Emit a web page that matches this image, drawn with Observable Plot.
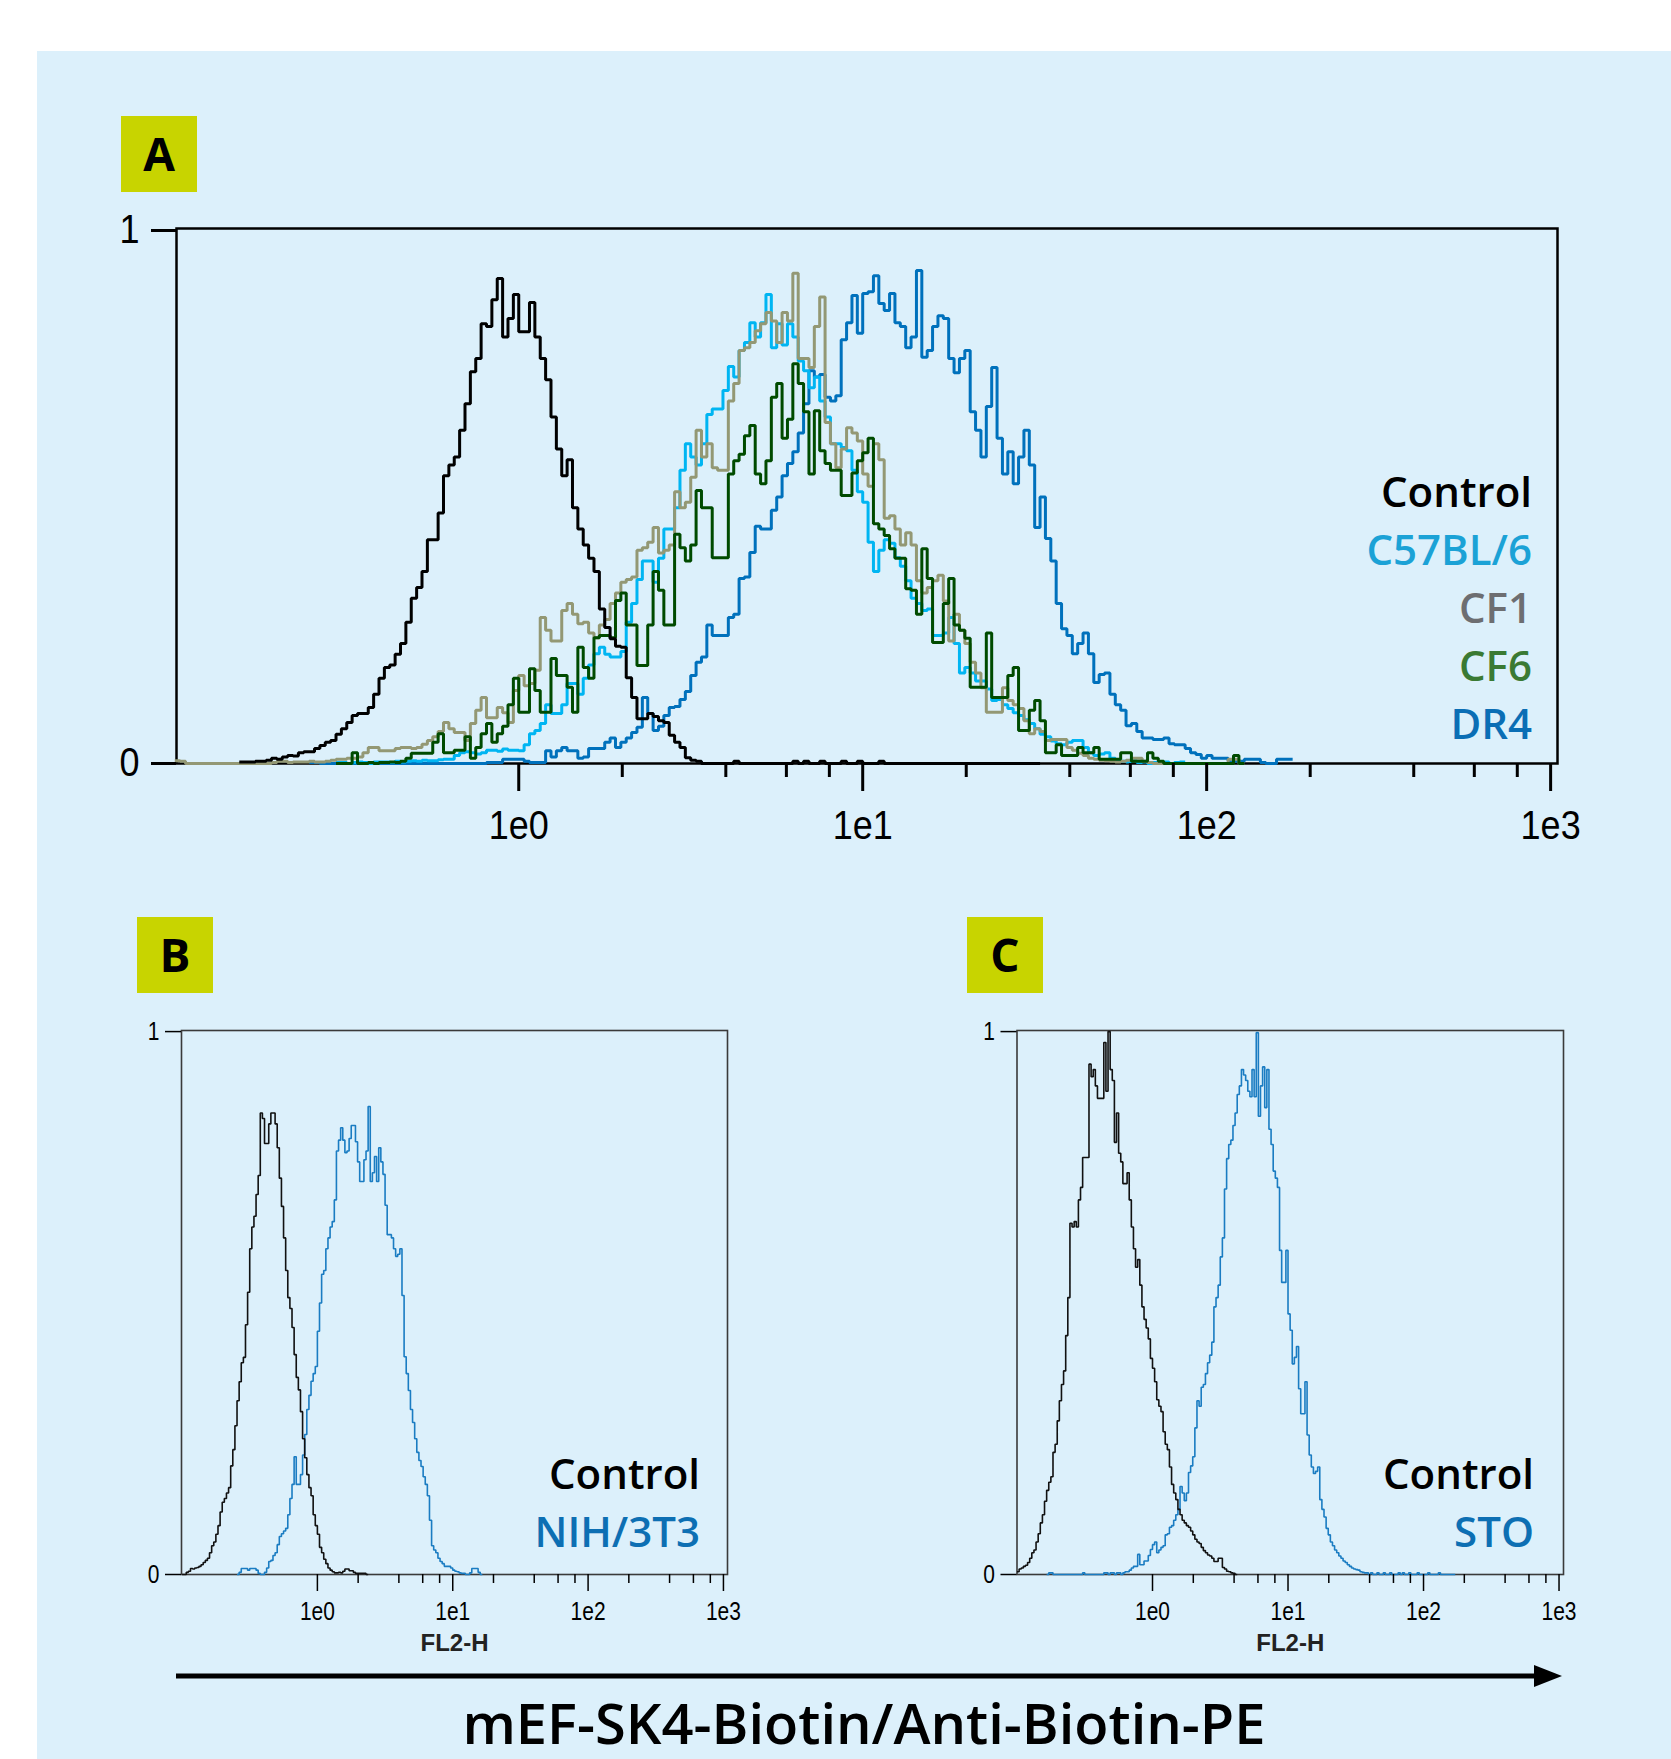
<!DOCTYPE html>
<html>
<head>
<meta charset="utf-8">
<script src="https://cdn.jsdelivr.net/npm/d3@7"></script>
<script src="https://cdn.jsdelivr.net/npm/@observablehq/plot@0.6"></script>
<style>
  html, body { margin: 0; padding: 0; background: #ffffff; }
  #page { position: relative; width: 1671px; height: 1759px; overflow: hidden; background: #ffffff; }
  #panel { position: absolute; left: 37px; top: 51px; width: 1634px; height: 1708px; background: #dcf0fb; }
  .plotbox { position: absolute; }
  .plotbox svg { max-width: none !important; display: block; }
  #overlay { position: absolute; left: 0; top: 0; pointer-events: none; }
</style>
</head>
<body>
<div id="page">
  <div id="panel"></div>
  <div id="pa" class="plotbox" style="left:60px; top:200px; width:1580px; height:660px;"></div>
  <div id="pb" class="plotbox" style="left:100px; top:1000px; width:700px; height:670px;"></div>
  <div id="pc" class="plotbox" style="left:930px; top:1000px; width:700px; height:670px;"></div>
  <svg id="overlay" width="1671" height="1759"></svg>
</div>
<script>
// ---------------- DATA ----------------
// Histogram channels: 64 bins per decade, bin k starts at 10^(-1 + k/64)
const LOG_MIN = -1;
const BINS_PER_DECADE = 64;

const ticksMajor = [1, 10, 100, 1000];
const ticksMinor = [2, 4, 6, 8, 20, 40, 60, 80, 200, 400, 600, 800];
const yTicks = [0, 1];

const panelLetters = ["A", "B", "C"];
const legendA = ["Control", "C57BL/6", "CF1", "CF6", "DR4"];
const legendB = ["Control", "NIH/3T3"];
const legendC = ["Control", "STO"];
const axisTitleBC = "FL2-H";
const caption = "mEF-SK4-Biotin/Anti-Biotin-PE";

// Panel A
const controlA_start = 12;
const controlA = [
  0.003,0.003,0.003,0.004,0.004,0.006,0.010,0.008,0.012,0.015,
  0.014,0.020,0.022,0.022,0.028,0.034,0.040,0.043,0.055,0.065,
  0.077,0.090,0.094,0.094,0.105,0.130,0.160,0.180,0.185,0.205,
  0.225,0.265,0.310,0.330,0.360,0.420,0.420,0.470,0.540,0.560,
  0.575,0.625,0.675,0.735,0.760,0.825,0.820,0.870,0.910,0.800,
  0.835,0.880,0.810,0.810,0.865,0.800,0.760,0.720,0.650,0.590,
  0.540,0.570,0.480,0.440,0.410,0.385,0.360,0.290,0.255,0.234,
  0.220,0.218,0.161,0.124,0.084,0.084,0.094,0.088,0.080,0.077,
  0.053,0.040,0.030,0.011,0.006,0.004,
  0,0,0,0,0,0,0.004,0,0,0,0,0,
  0,0,0,0,0,0.004,0,0.004,0,0,0.004,0,
  0,0,0.004,0,0,0.004,0,0,0,0.004,0,0,
  0,0,0,0,0,0,0,0,0,0,0,0,
  0,0,0,0,0,0,0,0,0,0,0,0,
  0,0,0
];

const c57_start = 30;
const c57 = [
  0.002,0.002,0.000,0.002,0.003,0.002,0.000,0.003,0.003,0.003,
  0.002,0.004,0.003,0.004,0.005,0.004,0.006,0.005,0.005,0.007,
  0.008,0.008,0.015,0.020,0.022,0.020,0.018,0.020,0.025,0.025,
  0.023,0.027,0.025,0.025,0.024,0.035,0.056,0.062,0.075,0.110,
  0.094,0.094,0.110,0.150,0.150,0.130,0.160,0.185,0.206,0.218,
  0.205,0.200,0.200,0.210,0.265,0.300,0.345,0.380,0.380,0.340,
  0.385,0.440,0.440,0.480,0.550,0.600,0.575,0.560,0.600,0.655,
  0.665,0.665,0.700,0.745,0.725,0.775,0.790,0.827,0.800,0.827,
  0.880,0.780,0.825,0.785,0.825,0.800,0.755,0.737,0.705,0.725,
  0.680,0.650,0.600,0.600,0.593,0.587,0.550,0.510,0.490,0.415,
  0.360,0.400,0.420,0.413,0.386,0.370,0.343,0.310,0.300,0.287,
  0.290,0.240,0.240,0.245,0.274,0.225,0.170,0.180,0.170,0.155,
  0.155,0.140,0.118,0.120,0.110,0.103,0.095,0.090,0.082,0.075,
  0.065,0.055,0.050,0.042,0.037,0.035,0.040,0.043,0.043,0.030,
  0.020,0.015,0.018,0.020,0.010,0.005,0.004,0.003,0.005,0.002,
  0.003,0.000,0.002,0.000,0.003,0.000,0.002,0.003
];

const cf1_start = 0;
const cf1 = [
  0.005,0.004,0,0,0,0,0,0,0,0,
  0,0,0,0,0,0,0,0,0.002,0.004,
  0.004,0.002,0.003,0.003,0.003,0.004,0.003,0.003,0.004,0.006,
  0.008,0.008,0.010,0.010,0.012,0.020,0.030,0.030,0.024,0.024,
  0.024,0.028,0.030,0.030,0.028,0.030,0.036,0.043,0.050,0.060,
  0.077,0.065,0.058,0.058,0.043,0.075,0.100,0.124,0.086,0.086,
  0.105,0.095,0.077,0.137,0.165,0.146,0.150,0.175,0.274,0.250,
  0.230,0.230,0.287,0.300,0.280,0.262,0.265,0.245,0.236,0.260,
  0.270,0.300,0.320,0.340,0.345,0.350,0.400,0.405,0.415,0.443,
  0.395,0.400,0.410,0.510,0.480,0.490,0.537,0.625,0.575,0.600,
  0.555,0.550,0.550,0.680,0.713,0.775,0.780,0.790,0.812,0.825,
  0.846,0.830,0.790,0.846,0.830,0.920,0.760,0.760,0.743,0.820,
  0.875,0.640,0.600,0.555,0.590,0.630,0.620,0.605,0.543,0.520,
  0.600,0.570,0.460,0.465,0.440,0.410,0.433,0.410,0.343,0.320,
  0.330,0.343,0.353,0.305,0.230,0.280,0.250,0.225,0.190,0.170,
  0.142,0.096,0.096,0.096,0.142,0.118,0.110,0.103,0.080,0.056,
  0.065,0.060,0.043,0.045,0.045,0.045,0.030,0.025,0.019,0.015,
  0.010,0.008,0.006,0.005,0.004,0.003,0.004,0.006,0.010,0.010,
  0.004,0.002,0,0,0,0,0,0,0,0,
  0,0,0,0,0,0,0.008,0.008,0
];

const cf6_start = 30;
const cf6 = [
  0,0,0,0.020,0,0,0.002,0,0.002,0.002,
  0.003,0.002,0.004,0.010,0.019,0.019,0.019,0.019,0.040,0.056,
  0.020,0.020,0.025,0.025,0.050,0.010,0.030,0.056,0.075,0.040,
  0.056,0.070,0.110,0.160,0.096,0.096,0.178,0.137,0.096,0.096,
  0.197,0.165,0.165,0.143,0.096,0.218,0.180,0.160,0.236,0.240,
  0.240,0.236,0.306,0.320,0.260,0.260,0.184,0.184,0.260,0.360,
  0.325,0.260,0.260,0.430,0.405,0.380,0.410,0.512,0.480,0.480,
  0.386,0.386,0.386,0.543,0.568,0.580,0.615,0.634,0.543,0.525,
  0.568,0.687,0.713,0.610,0.646,0.750,0.713,0.660,0.543,0.662,
  0.587,0.563,0.550,0.550,0.503,0.503,0.545,0.568,0.583,0.610,
  0.450,0.440,0.428,0.403,0.385,0.385,0.328,0.325,0.280,0.403,
  0.347,0.227,0.227,0.300,0.347,0.260,0.250,0.235,0.143,0.143,
  0.143,0.245,0.124,0.124,0.124,0.165,0.180,0.062,0.062,0.100,
  0.118,0.080,0.020,0.020,0.035,0.015,0.015,0.015,0.030,0.020,
  0.020,0.030,0.008,0.008,0.008,0.008,0.020,0.020,0.004,0.004,
  0.004,0.020,0.010,0.004,0,0,0,0,0,0,
  0,0,0,0,0,0,0,0.015,0
];

const dr4_start = 25;
const dr4 = [
  0.002,0.002,0,0,0,
  0,0,0,0,0,0,0,0,0,0,
  0,0,0,0,0,0,0,0,0,0,
  0,0,0,0,0,0,0,0,0.002,0.002,
  0.002,0.008,0.008,0.008,0.008,0.004,0.002,0.002,0.002,0.024,
  0.012,0.024,0.030,0.024,0.024,0.010,0.012,0.028,0.028,0.028,
  0.040,0.048,0.030,0.040,0.048,0.058,0.068,0.124,0.094,0.062,
  0.070,0.090,0.105,0.107,0.120,0.135,0.165,0.190,0.200,0.260,
  0.240,0.240,0.240,0.274,0.280,0.347,0.350,0.396,0.445,0.440,
  0.440,0.475,0.500,0.540,0.563,0.585,0.620,0.675,0.737,0.725,
  0.730,0.687,0.680,0.690,0.795,0.827,0.878,0.807,0.882,0.885,
  0.915,0.863,0.850,0.882,0.827,0.820,0.780,0.800,0.925,0.762,
  0.775,0.820,0.840,0.835,0.760,0.733,0.760,0.775,0.660,0.625,
  0.575,0.670,0.743,0.610,0.543,0.585,0.525,0.575,0.625,0.560,
  0.443,0.500,0.422,0.380,0.300,0.253,0.240,0.206,0.225,0.245,
  0.206,0.152,0.167,0.170,0.130,0.110,0.100,0.071,0.075,0.060,
  0.048,0.048,0.045,0.045,0.048,0.037,0.035,0.035,0.028,0.020,
  0.017,0.010,0.015,0.010,0.010,0.010,0.005,0.004,0.004,0.008,
  0.008,0.008,0.002,0,0,0.008,0.008,0.008
];

// Panel B
const controlB_start = 0;
const controlB = [
  0.000,0.000,0.004,0.006,0.011,0.010,0.012,0.013,0.015,0.018,
  0.022,0.026,0.030,0.040,0.053,0.060,0.074,0.090,0.115,0.133,
  0.140,0.150,0.160,0.200,0.230,0.274,0.320,0.355,0.390,0.400,
  0.460,0.520,0.600,0.640,0.660,0.700,0.735,0.850,0.840,0.794,
  0.794,0.830,0.850,0.850,0.830,0.786,0.730,0.678,0.620,0.560,
  0.510,0.490,0.455,0.405,0.363,0.340,0.300,0.250,0.215,0.184,
  0.160,0.145,0.110,0.090,0.074,0.050,0.040,0.028,0.020,0.012,
  0.008,0.005,0.003,0.003,0.004,0.003,0.006,0.010,0.010,0.007,
  0.007,0.004,0.002,0.002,0.002,0.002,0.002,0.000
];
const nih_start = 26;
const nih = [
  0.000,0.004,0.011,0.011,0.011,0.008,0.011,0.011,0.011,0.008,
  0.002,0.000,0.000,0.004,0.012,0.024,0.026,0.035,0.040,0.055,
  0.070,0.075,0.080,0.085,0.110,0.140,0.166,0.217,0.166,0.166,
  0.184,0.220,0.258,0.304,0.330,0.356,0.370,0.383,0.448,0.500,
  0.553,0.560,0.600,0.620,0.640,0.650,0.690,0.780,0.800,0.823,
  0.800,0.777,0.780,0.803,0.827,0.827,0.797,0.760,0.724,0.724,
  0.764,0.780,0.862,0.724,0.740,0.770,0.724,0.786,0.760,0.737,
  0.680,0.626,0.626,0.620,0.600,0.586,0.590,0.600,0.514,0.401,
  0.370,0.339,0.304,0.280,0.250,0.225,0.210,0.199,0.180,0.166,
  0.145,0.100,0.053,0.045,0.040,0.030,0.024,0.020,0.015,0.015,
  0.015,0.012,0.008,0.006,0.005,0.003,0.002,0.002,0.000,0.000,
  0.003,0.011,0.011,0.011,0.004,0.000
];

// Panel C
const controlC_start = 0;
const controlC = [
  0.005,0.010,0.012,0.015,0.017,0.022,0.030,0.040,0.045,0.060,
  0.075,0.095,0.110,0.135,0.155,0.170,0.180,0.225,0.240,0.283,
  0.320,0.350,0.375,0.440,0.510,0.647,0.640,0.650,0.640,0.690,
  0.713,0.768,0.768,0.768,0.940,0.917,0.930,0.900,0.877,0.877,
  0.877,0.980,0.890,1.000,0.930,0.910,0.796,0.850,0.776,0.760,
  0.720,0.720,0.740,0.690,0.640,0.600,0.566,0.580,0.533,0.493,
  0.470,0.454,0.434,0.398,0.380,0.355,0.322,0.310,0.300,0.263,
  0.240,0.230,0.198,0.166,0.150,0.138,0.120,0.110,0.100,0.095,
  0.090,0.087,0.080,0.073,0.065,0.060,0.057,0.050,0.044,0.040,
  0.036,0.034,0.030,0.024,0.024,0.030,0.030,0.013,0.010,0.006,
  0.005,0.003,0.002,0.000
];
const sto_start = 14;
const sto = [
  0,0.003,0.003,0,0,0,0,0,0,0,
  0,0,0,0,0,0,0,0.003,0,0,
  0,0,0,0,0,0,0,0.003,0.003,0,
  0.003,0.003,0,0.003,0.003,0,0.003,0.005,0.005,0.008,
  0.012,0.015,0.015,0.037,0.018,0.018,0.025,0.025,0.035,0.046,
  0.055,0.060,0.040,0.045,0.050,0.053,0.073,0.075,0.087,0.090,
  0.100,0.110,0.120,0.162,0.150,0.136,0.150,0.188,0.200,0.217,
  0.270,0.320,0.310,0.345,0.350,0.370,0.390,0.404,0.428,0.493,
  0.510,0.533,0.585,0.620,0.710,0.766,0.792,0.800,0.827,0.850,
  0.884,0.900,0.930,0.920,0.910,0.890,0.880,0.930,0.880,0.998,
  0.844,0.900,0.935,0.860,0.930,0.820,0.792,0.743,0.730,0.713,
  0.597,0.538,0.538,0.597,0.480,0.450,0.388,0.400,0.420,0.342,
  0.296,0.296,0.355,0.257,0.220,0.198,0.186,0.190,0.198,0.138,
  0.120,0.106,0.085,0.073,0.060,0.053,0.045,0.040,0.034,0.030,
  0.025,0.022,0.018,0.015,0.012,0.010,0.009,0.008,0.005,0.004,
  0.003,0.003,0,0.003,0,0,0.003,0,0,0.003,
  0,0,0.003,0,0,0,0.003,0,0.003,0,
  0,0.003,0,0,0,0.003,0,0,0,0,
  0.003,0,0,0,0,0.003,0,0,0,0,
  0,0,0
];

// ---------------- HELPERS ----------------
function hist(start, values) {
  const pts = values.map((v, i) => ({x: Math.pow(10, LOG_MIN + (start + i) / BINS_PER_DECADE), y: v}));
  pts.push({x: Math.pow(10, LOG_MIN + (start + values.length) / BINS_PER_DECADE), y: values[values.length - 1]});
  return pts;
}
const tickFmt = d => "1e" + Math.round(Math.log10(d));

function squeeze(svg, s) {
  svg.querySelectorAll('g[aria-label$="tick label"] text').forEach(t => {
    const tr = t.getAttribute("transform");
    if (tr) {
      t.setAttribute("transform", tr + ` scale(${s},1)`);
    } else {
      const x = t.getAttribute("x") || 0, y = t.getAttribute("y") || 0;
      t.removeAttribute("x"); t.removeAttribute("y");
      t.setAttribute("transform", `translate(${x},${y}) scale(${s},1)`);
    }
  });
}

const tickFont = "'Liberation Sans', Arial, Helvetica, sans-serif";

// ---------------- PANEL A ----------------
const seriesA = [
  {start: dr4_start, values: dr4, color: "#0071bc"},
  {start: c57_start, values: c57, color: "#00b5f2"},
  {start: cf1_start, values: cf1, color: "#939874"},
  {start: cf6_start, values: cf6, color: "#004b00"},
  {start: controlA_start, values: controlA, color: "#000000"}
];

const plotA = Plot.plot({
  width: 1580, height: 660,
  marginLeft: 116, marginRight: 83, marginTop: 28, marginBottom: 97,
  style: {background: "transparent", color: "#000", fontFamily: tickFont, overflow: "visible"},
  x: {type: "log", domain: [Math.pow(10, -0.995), Math.pow(10, 3.02)]},
  y: {domain: [0, 1.00375]},
  marks: [
    Plot.frame({stroke: "#000", strokeWidth: 2.5}),
    ...seriesA.map(s => Plot.line(hist(s.start, s.values), {
      x: "x", y: "y", curve: "step-after", stroke: s.color, strokeWidth: 3,
      strokeLinejoin: "miter", strokeLinecap: "butt"
    })),
    Plot.axisX({ticks: ticksMajor, tickSize: 28, tickPadding: 19, strokeWidth: 3, fontSize: 40, tickFormat: tickFmt, label: null}),
    Plot.axisX({ticks: ticksMinor, tickSize: 14, strokeWidth: 3, tickFormat: () => "", label: null}),
    Plot.axisY({ticks: yTicks, tickSize: 25, tickPadding: 12, strokeWidth: 3, fontSize: 40, tickFormat: d => String(d), label: null})
  ]
});
squeeze(plotA, 0.9);
document.getElementById("pa").appendChild(plotA);

// ---------------- PANELS B & C ----------------
function smallPanel(series, domainLog, marginLeft, marginRight) {
  const p = Plot.plot({
    width: 700, height: 670,
    marginLeft, marginRight, marginTop: 30, marginBottom: 96,
    style: {background: "transparent", color: "#000", fontFamily: tickFont, overflow: "visible"},
    x: {type: "log", domain: [Math.pow(10, domainLog[0]), Math.pow(10, domainLog[1])]},
    y: {domain: [0, 1.002]},
    marks: [
      Plot.frame({stroke: "#3a3a3a", strokeWidth: 1.6}),
      ...series.map(s => Plot.line(hist(s.start, s.values), {
        x: "x", y: "y", curve: "step-after", stroke: s.color, strokeWidth: 1.6,
        strokeLinejoin: "miter", strokeLinecap: "butt"
      })),
      Plot.axisX({ticks: ticksMajor, tickSize: 17, tickPadding: 11, strokeWidth: 1.5, fontSize: 25, tickFormat: tickFmt, label: null}),
      Plot.axisX({ticks: ticksMinor, tickSize: 9, strokeWidth: 1.5, tickFormat: () => "", label: null}),
      Plot.axisY({ticks: yTicks, tickSize: 16, tickPadding: 6, strokeWidth: 1.5, fontSize: 25, tickFormat: d => String(d), label: null}),
      Plot.text([axisTitleBC], {text: d => d, frameAnchor: "bottom", dy: 69, fontSize: 24, fontWeight: "bold", lineAnchor: "middle", fill: "#222"})
    ]
  });
  squeeze(p, 0.84);
  return p;
}

const plotB = smallPanel([
  {start: nih_start, values: nih, color: "#1a7cc2"},
  {start: controlB_start, values: controlB, color: "#111111"}
], [-1.004, 3.03], 81, 73);
document.getElementById("pb").appendChild(plotB);

const plotC = smallPanel([
  {start: sto_start, values: sto, color: "#1a7cc2"},
  {start: controlC_start, values: controlC, color: "#111111"}
], [-1.0, 3.033], 86.5, 67);
document.getElementById("pc").appendChild(plotC);

// ---------------- OVERLAY: labels, legends, caption ----------------
const ov = d3.select("#overlay");
const labelFont = "'Open Sans', 'Noto Sans', sans-serif";

const boxPos = [[121, 116], [137, 917], [967, 917]];
panelLetters.forEach((t, i) => {
  const [bx, by] = boxPos[i];
  ov.append("rect").attr("x", bx).attr("y", by).attr("width", 76).attr("height", 76).attr("fill", "#c8d400");
  ov.append("text").attr("x", bx + 38).attr("y", by + 55).attr("text-anchor", "middle")
    .attr("font-family", labelFont).attr("font-weight", 700).attr("font-size", 46).attr("fill", "#000").text(t);
});

function legend(labels, colors, xRight, yFirst, step) {
  labels.forEach((t, i) => {
    ov.append("text").attr("x", xRight).attr("y", yFirst + i * step).attr("text-anchor", "end")
      .attr("font-family", labelFont).attr("font-weight", 600).attr("font-size", 42)
      .attr("fill", colors[i]).text(t);
  });
}
legend(legendA, ["#000000", "#1ba2d6", "#6d6e71", "#3a7a33", "#0a6eb5"], 1532, 507, 58);
legend(legendB, ["#000000", "#0d6fb3"], 700, 1489, 58);
legend(legendC, ["#000000", "#0d6fb3"], 1534, 1489, 58);

// arrow
ov.append("line").attr("x1", 176).attr("x2", 1537).attr("y1", 1676).attr("y2", 1676)
  .attr("stroke", "#000").attr("stroke-width", 5);
ov.append("path").attr("d", "M1534,1665 L1562,1676 L1534,1687 Z").attr("fill", "#000");

ov.append("text").attr("x", 864).attr("y", 1744).attr("text-anchor", "middle")
  .attr("font-family", labelFont).attr("font-weight", 600).attr("font-size", 56)
  .attr("fill", "#000").text(caption);
</script>
</body>
</html>
